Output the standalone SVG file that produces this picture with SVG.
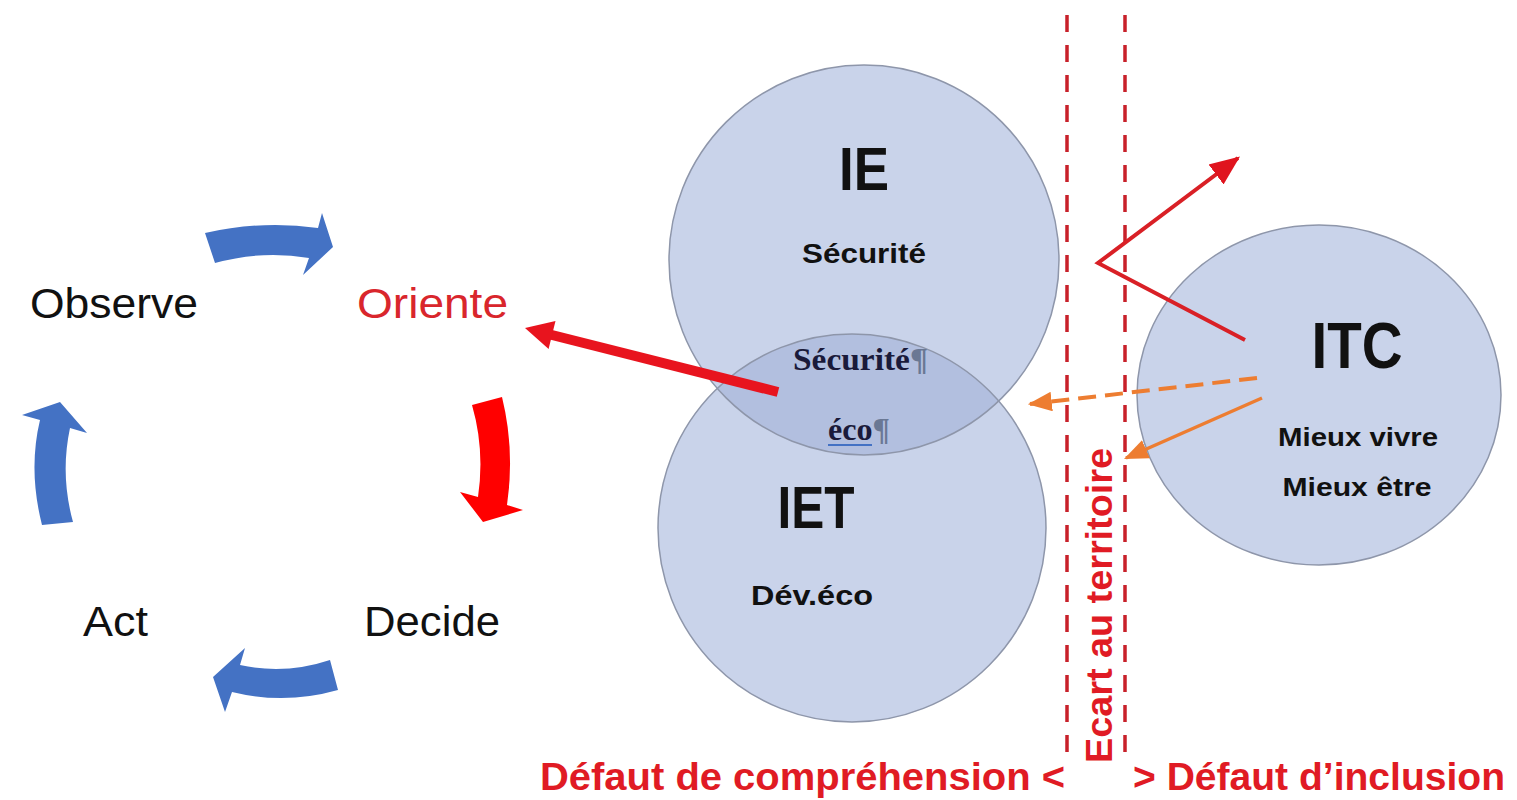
<svg xmlns="http://www.w3.org/2000/svg" width="1517" height="800" viewBox="0 0 1517 800">
<style>
.lbl{font-family:"Liberation Sans",Arial,sans-serif;fill:#111}
.big{font-family:"Liberation Sans",Arial,sans-serif;font-weight:bold;fill:#111;text-anchor:middle}
.ser{font-family:"Liberation Serif","Times New Roman",serif;font-weight:bold;fill:#1a1a3a}
.red{font-family:"Liberation Sans",Arial,sans-serif;font-weight:bold;fill:#e01b24}
.circ{fill:#c9d3ea}
.edge{fill:none;stroke:#8e96aa;stroke-width:1.5}
.blue{fill:#4472c4}
.vdash{stroke:#c8202a;stroke-width:3.5;stroke-dasharray:17 13;fill:none}
</style>
<defs>
<marker id="hRed" markerUnits="userSpaceOnUse" markerWidth="30" markerHeight="30" refX="22" refY="10" orient="auto" viewBox="0 0 24 20">
<path d="M0,0 L24,10 L0,20 Z" fill="#e0141e"/>
</marker>
<marker id="hOr" markerUnits="userSpaceOnUse" markerWidth="24" markerHeight="20" refX="20" refY="9" orient="auto" viewBox="0 0 22 18">
<path d="M0,0 L22,9 L0,18 Z" fill="#ed7d31"/>
</marker>
</defs>
<rect width="1517" height="800" fill="#ffffff"/>

<g id="circle-ie">
<circle class="circ" cx="864" cy="260" r="195"/>
</g>
<g id="circle-iet">
<circle class="circ" cx="852" cy="528" r="194"/>
</g>
<g id="lens">
<path d="M717.3,388.5 A195,195 0 0 0 998.6,401 A194,194 0 0 0 717.3,388.5 Z" fill="#b2bfdf"/>
</g>
<g id="edges">
<circle class="edge" cx="864" cy="260" r="195"/>
<circle class="edge" cx="852" cy="528" r="194"/>
</g>
<g id="circle-itc">
<ellipse class="circ" cx="1319" cy="395" rx="182" ry="170"/>
<ellipse class="edge" cx="1319" cy="395" rx="182" ry="170"/>
</g>

<g id="ie-text">
<text class="big" x="864" y="190" font-size="62" textLength="50" lengthAdjust="spacingAndGlyphs">IE</text>
<text class="big" x="864" y="263" font-size="28" textLength="124" lengthAdjust="spacingAndGlyphs">Sécurité</text>
</g>
<g id="lens-text">
<text class="ser" x="793" y="370" font-size="31" textLength="135" lengthAdjust="spacingAndGlyphs">Sécurité<tspan fill="#6a7894">¶</tspan></text>
<text class="ser" x="828" y="440" font-size="31" textLength="62" lengthAdjust="spacingAndGlyphs">éco<tspan fill="#6a7894">¶</tspan></text>
<line x1="828" y1="445" x2="872" y2="445" stroke="#4472c4" stroke-width="2"/>
</g>
<g id="iet-text">
<text class="big" x="816" y="528" font-size="60" textLength="77" lengthAdjust="spacingAndGlyphs">IET</text>
<text class="big" x="812" y="605" font-size="28" textLength="122" lengthAdjust="spacingAndGlyphs">Dév.éco</text>
</g>
<g id="itc-text">
<text class="big" x="1357" y="368" font-size="64" textLength="91" lengthAdjust="spacingAndGlyphs">ITC</text>
<text class="big" x="1358" y="446" font-size="25" textLength="160" lengthAdjust="spacingAndGlyphs">Mieux vivre</text>
<text class="big" x="1357" y="496" font-size="25" textLength="149" lengthAdjust="spacingAndGlyphs">Mieux être</text>
</g>

<g id="observe"><text class="lbl" x="30" y="318" font-size="43" textLength="168" lengthAdjust="spacingAndGlyphs">Observe</text></g>
<g id="oriente"><text class="lbl" x="357" y="318" font-size="43" textLength="151" lengthAdjust="spacingAndGlyphs" style="fill:#d9262c">Oriente</text></g>
<g id="act"><text class="lbl" x="83" y="636" font-size="43" textLength="65" lengthAdjust="spacingAndGlyphs">Act</text></g>
<g id="decide"><text class="lbl" x="364" y="636" font-size="43" textLength="136" lengthAdjust="spacingAndGlyphs">Decide</text></g>

<g id="cycle-arrows">
<path class="blue" d="M205,233 Q262,220 318,228 L322,213 L333,247 L303,275 L309,258 Q262,250 215,263 Z"/>
<path class="blue" d="M42,525 Q28,470 40,420 L22,415 L60,402 L87,433 L70,428 Q60,475 73,522 Z"/>
<path class="blue" d="M330,660 Q285,675 240,665 L245,648 L213,677 L225,712 L232,692 Q285,705 338,690 Z"/>
<path d="M472,405 Q485,450 478,497 L460,492 L483,522 L523,510 L507,505 Q515,450 502,397 Z" fill="#ff0000"/>
</g>

<g id="boundaries">
<line class="vdash" x1="1067" y1="15" x2="1067" y2="765"/>
<line class="vdash" x1="1125" y1="15" x2="1125" y2="765"/>
</g>

<g id="connectors">
<line x1="778" y1="392" x2="548" y2="334" stroke="#e8141e" stroke-width="10"/>
<path d="M525,328 L555.5,321 L548.6,349 Z" fill="#e8141e"/>
<polyline points="1245,340 1098,263 1238,158" fill="none" stroke="#d92026" stroke-width="4" marker-end="url(#hRed)"/>
<line x1="1257" y1="378" x2="1030" y2="404" stroke="#ed7d31" stroke-width="4" stroke-dasharray="18 9" marker-end="url(#hOr)"/>
<line x1="1262" y1="398" x2="1126" y2="458" stroke="#ed7d31" stroke-width="3.5" marker-end="url(#hOr)"/>
</g>

<g id="labels">
<text class="red" transform="translate(1112,763) rotate(-90)" font-size="37" textLength="315" lengthAdjust="spacingAndGlyphs">Ecart au territoire</text>
<text class="red" x="540" y="790" font-size="38" textLength="525" lengthAdjust="spacingAndGlyphs">Défaut de compréhension &lt;</text>
<text class="red" x="1133" y="790" font-size="38" textLength="372" lengthAdjust="spacingAndGlyphs">&gt; Défaut d’inclusion</text>
</g>
</svg>
